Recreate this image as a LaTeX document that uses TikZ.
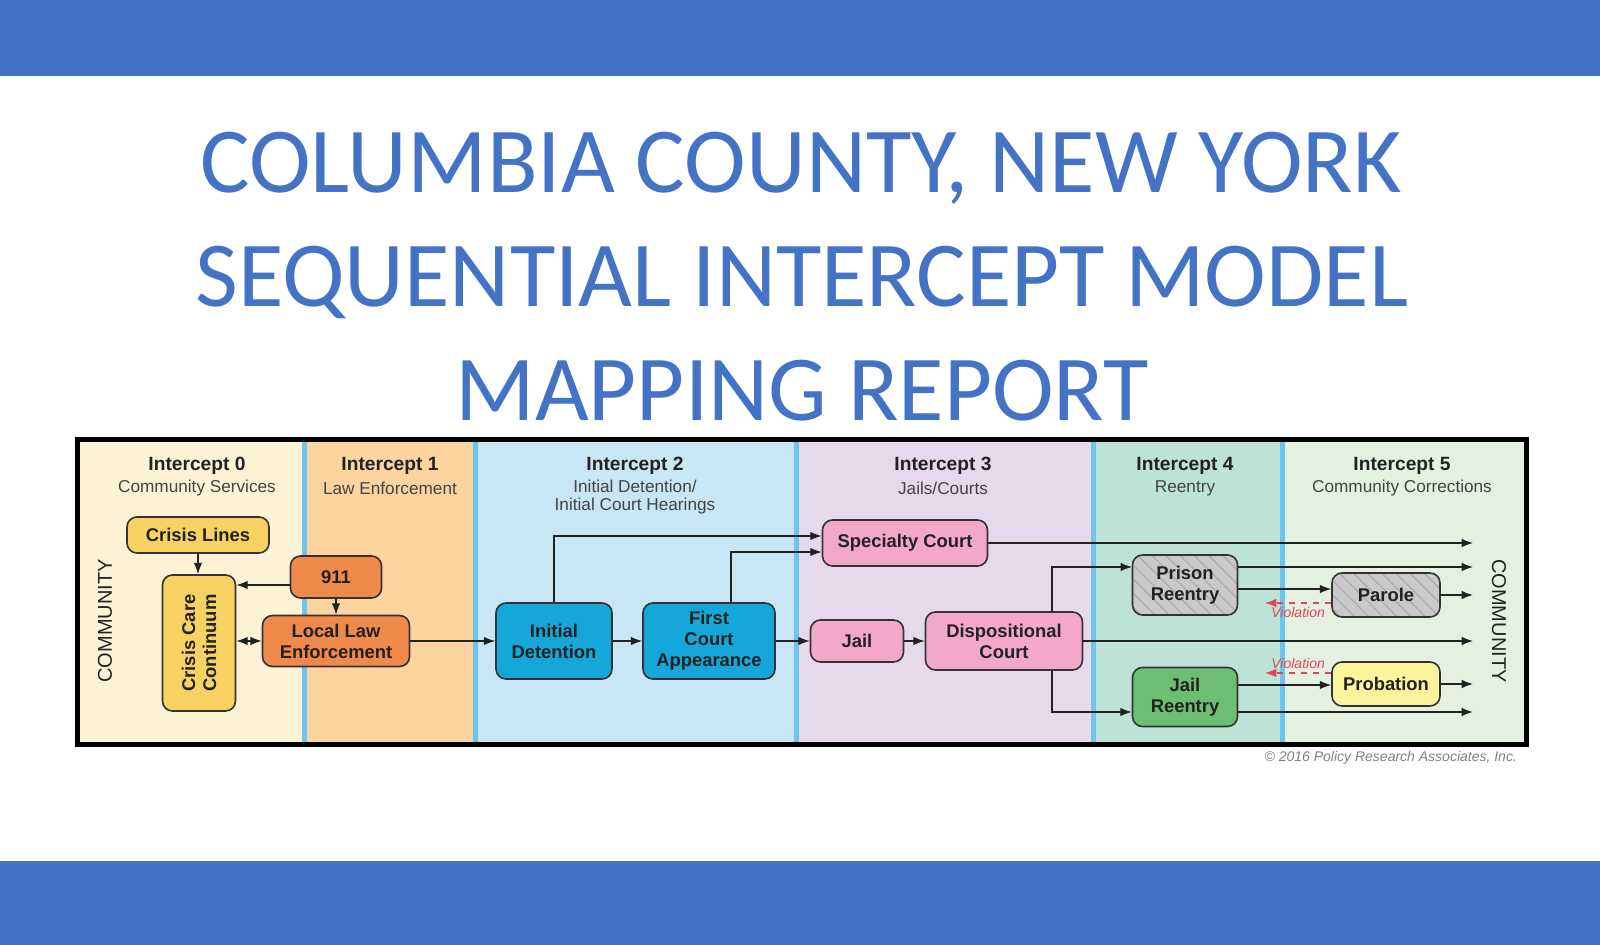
\documentclass[tikz,border=0pt]{standalone}
\usepackage{fontspec}
\setmainfont{Liberation Sans}
\newfontfamily\titlefont{Carlito}
\usetikzlibrary{positioning,patterns.meta,arrows.meta}

\definecolor{barblue}{HTML}{4472C4}
\definecolor{zoneA}{HTML}{FDF2D6}
\definecolor{zoneB}{HTML}{FDD39F}
\definecolor{zoneC}{HTML}{C8E6F5}
\definecolor{zoneD}{HTML}{E6D9EB}
\definecolor{zoneE}{HTML}{BDE3D8}
\definecolor{zoneF}{HTML}{E4F1E0}
\definecolor{divider}{HTML}{6CC5EF}
\definecolor{crisisyellow}{HTML}{F8D163}
\definecolor{laworange}{HTML}{EF8A4C}
\definecolor{courtblue}{HTML}{15A6DA}
\definecolor{jailpink}{HTML}{F3A7C9}
\definecolor{reentrygray}{HTML}{C9C9CB}
\definecolor{reentrygreen}{HTML}{6CBE72}
\definecolor{probyellow}{HTML}{FCF49D}
\definecolor{violred}{HTML}{E0475A}
\definecolor{inktext}{HTML}{222222}

\tikzset{
  titleline/.style={anchor=base, text=barblue, font=\titlefont\fontsize{46.5}{50}\selectfont},
  box/.style={draw=black!80, line width=0.8pt, rounded corners=5pt, align=center,
    inner sep=0pt, text=inktext, font=\bfseries\fontsize{9.2}{10.5}\selectfont},
  hatched/.style={box, preaction={fill=reentrygray},
    pattern={Lines[angle=-45,distance=5pt,line width=0.5pt]}, pattern color=gray!70},
  head/.style={font=\bfseries\fontsize{9.6}{11}\selectfont, text=inktext},
  sub/.style={font=\fontsize{8.6}{9.2}\selectfont, text=inktext!85},
  flow/.style={->, line width=0.6pt, draw=inktext},
  viol/.style={->, dashed, line width=0.6pt, draw=violred},
  violtext/.style={font=\itshape\fontsize{7}{8}\selectfont, text=violred}
}

\begin{document}
\begin{tikzpicture}[x=0.5pt, y=-0.5pt, >=Latex]
\useasboundingbox (0,0) rectangle (1600,945);
% bars
\fill[barblue] (0,0) rectangle (1600,76);
\fill[barblue] (0,861) rectangle (1600,945);
% title
\node[titleline] (t1) at (801,193) {COLUMBIA COUNTY, NEW YORK};
\node[titleline] (t2) at (802,307) {SEQUENTIAL INTERCEPT MODEL};
\node[titleline] (t3) at (802,421) {MAPPING REPORT};

% zones
\fill[zoneA] (77,440) rectangle (304,744);
\fill[zoneB] (304,440) rectangle (475,744);
\fill[zoneC] (475,440) rectangle (796,744);
\fill[zoneD] (796,440) rectangle (1093,744);
\fill[zoneE] (1093,440) rectangle (1282,744);
\fill[zoneF] (1282,440) rectangle (1526,744);
\foreach \x in {304,475,796,1093,1282}
  \draw[divider, line width=2.5pt] (\x,440) -- (\x,744);
\draw[line width=2.5pt] (77,440) rectangle (1526,744);

% headers
\node[head] (h0) at (197,466) {Intercept 0};
\node[sub] (s0) at (197,488) {Community Services};
\node[head] (h1) at (390,466) {Intercept 1};
\node[sub] (s1) at (390,488) {Law Enforcement};
\node[head] (h2) at (635,466) {Intercept 2};
\node[sub, align=center] (s2) at (635,497) {Initial Detention/\\Initial Court Hearings};
\node[head] (h3) at (943,466) {Intercept 3};
\node[sub] (s3) at (943,488) {Jails/Courts};
\node[head] (h4) at (1185,466) {Intercept 4};
\node[sub] (s4) at (1185,488) {Reentry};
\node[head] (h5) at (1402,466) {Intercept 5};
\node[sub] (s5) at (1402,488) {Community Corrections};

\node[rotate=90, font=\fontsize{10}{12}\selectfont, text=inktext] (commL) at (105,621) {COMMUNITY};
\node[rotate=-90, font=\fontsize{10}{12}\selectfont, text=inktext] (commR) at (1499,621) {COMMUNITY};

% boxes
\node[box, fill=crisisyellow, minimum width=71pt, minimum height=18pt] (cl) at (198,535) {Crisis Lines};
\node[box, fill=crisisyellow, minimum width=36.5pt, minimum height=68pt] (ccc) at (199,643) {};
\node[rotate=90, align=center, font=\bfseries\fontsize{9.2}{10.5}\selectfont, text=inktext] (cccText) at (ccc) {Crisis Care\\Continuum};
\node[box, fill=laworange, minimum width=45.5pt, minimum height=21pt] (n911) at (336,577) {911};
\node[box, fill=laworange, minimum width=73.5pt, minimum height=25.5pt] (lle) at (336,641) {Local Law\\Enforcement};
\node[box, fill=courtblue, minimum width=58pt, minimum height=38pt] (id) at (554,641) {Initial\\Detention};
\node[box, fill=courtblue, minimum width=66pt, minimum height=38pt] (fca) at (709,641) {First\\Court\\Appearance};
\node[box, fill=jailpink, minimum width=82.5pt, minimum height=23pt] (sc) at (905,543) {Specialty Court};
\node[box, fill=jailpink, minimum width=46.5pt, minimum height=21pt] (jail) at (857,641) {Jail};
\node[box, fill=jailpink, minimum width=78.5pt, minimum height=29pt] (dc) at (1004,641) {Dispositional\\Court};
\node[hatched, minimum width=52.5pt, minimum height=30pt] (pr) at (1185,585) {Prison\\Reentry};
\node[hatched, minimum width=54pt, minimum height=22pt] (pa) at (1386,595) {Parole};
\node[box, fill=reentrygreen, minimum width=52.5pt, minimum height=29.5pt] (jr) at (1185,697) {Jail\\Reentry};
\node[box, fill=probyellow, minimum width=54pt, minimum height=22pt] (pb) at (1386,684) {Probation};

\coordinate (exitR) at (1473,641);
\coordinate (violA) at (1265,603);
\coordinate (violB) at (1265,673);

% connectors
\draw[flow] (cl.south) -- (cl.south |- ccc.north);
\draw[flow] ([yshift=-4pt]n911.west) -- ([yshift=-4pt]n911.west -| ccc.east);
\draw[flow] (n911.south) -- (lle.north);
\draw[flow, <->] (lle.west) -- (lle.west -| ccc.east);
\draw[flow] (lle.east) -- (id.west);
\draw[flow] (id.east) -- (fca.west);
\draw[flow] (id.north) |- ([yshift=3.5pt]sc.west);
\draw[flow] ([xshift=11pt]fca.north) |- ([yshift=-4.5pt]sc.west);
\draw[flow] (fca.east) -- (jail.west);
\draw[flow] (jail.east) -- (dc.west);
\draw[flow] (sc.east) -- (sc.east -| exitR);
\draw[flow] ([xshift=24pt]dc.north) |- ([yshift=9pt]pr.west);
\draw[flow] (dc.east) -- (exitR);
\draw[flow] ([xshift=24pt]dc.south) |- ([yshift=-7.5pt]jr.west);
\draw[flow] ([yshift=9pt]pr.east) -- ([yshift=9pt]pr.east -| exitR);
\draw[flow] ([yshift=-2pt]pr.east) -- ([yshift=-2pt]pr.east -| pa.west);
\draw[flow] (pa.east) -- (pa.east -| exitR);
\draw[viol] (pa.west |- violA) -- node[violtext, below=-1.5pt] {Violation} (violA);
\draw[flow] ([yshift=6pt]jr.east) -- ([yshift=6pt]jr.east -| pb.west);
\draw[flow] (pb.east) -- (pb.east -| exitR);
\draw[viol] (pb.west |- violB) -- node[violtext, above=-1.5pt] {Violation} (violB);
\draw[flow] ([yshift=-7.5pt]jr.east) -- ([yshift=-7.5pt]jr.east -| exitR);

\node[anchor=east, font=\itshape\fontsize{7}{8}\selectfont, text=gray] (copy) at (1524,758) {© 2016 Policy Research Associates, Inc.};
\end{tikzpicture}
\end{document}
